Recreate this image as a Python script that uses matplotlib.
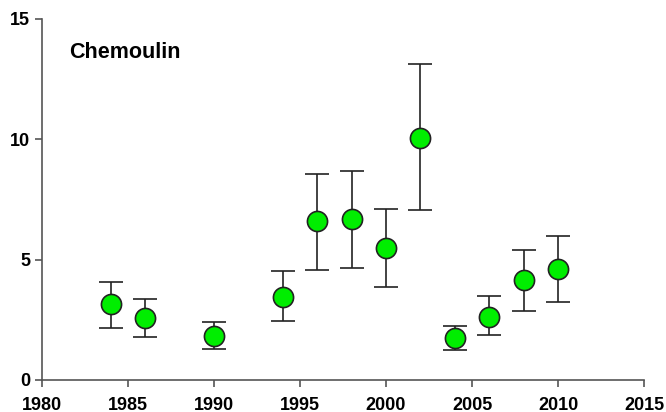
import matplotlib
matplotlib.use("Agg")
import matplotlib.pyplot as plt

plt.rcParams['font.family'] = ['Liberation Sans', 'DejaVu Sans']

# Survey years and mean values with lower / upper bounds
years = [1984, 1986, 1990, 1994, 1996, 1998, 2000, 2002, 2004, 2006, 2008, 2010]
means = [3.15, 2.58, 1.84, 3.46, 6.61, 6.68, 5.50, 10.07, 1.74, 2.62, 4.15, 4.61]
lower = [2.17, 1.79, 1.29, 2.45, 4.58, 4.65, 3.86, 7.06, 1.26, 1.86, 2.87, 3.24]
upper = [4.08, 3.37, 2.41, 4.54, 8.57, 8.68, 7.12, 13.12, 2.24, 3.48, 5.38, 5.99]

xticks = [1980, 1985, 1990, 1995, 2000, 2005, 2010, 2015]
yticks = [0, 5, 10, 15]

fig = plt.figure(figsize=(6.66, 4.12), dpi=100)
ax = fig.add_axes([0.063, 0.078, 0.904, 0.876])

yerr = [[m - lo for m, lo in zip(means, lower)],
        [hi - m for m, hi in zip(means, upper)]]
ax.errorbar(years, means, yerr=yerr, fmt='o', color='black', ecolor='#222222',
            elinewidth=1.2, capsize=8.5, capthick=1.2,
            marker='o', markersize=14.5, markerfacecolor='#00ee00',
            markeredgecolor='#222222', markeredgewidth=1.2, zorder=3)

ax.set_xlim(1980, 2015)
ax.set_ylim(0, 15)
ax.set_xticks(xticks)
ax.set_yticks(yticks)

for side in ['top', 'right']:
    ax.spines[side].set_visible(False)
for side in ['left', 'bottom']:
    ax.spines[side].set_color('#555555')
    ax.spines[side].set_linewidth(1.2)

ax.tick_params(direction='out', length=5, width=1.2, color='#555555',
               labelsize=13)
for lab in ax.get_xticklabels() + ax.get_yticklabels():
    lab.set_fontweight('bold')
ax.tick_params(axis='x', pad=7)

ax.text(1981.6, 13.6, 'Chemoulin', fontsize=15.5, fontweight='bold', va='center')

fig.savefig('out.png', dpi=100)
